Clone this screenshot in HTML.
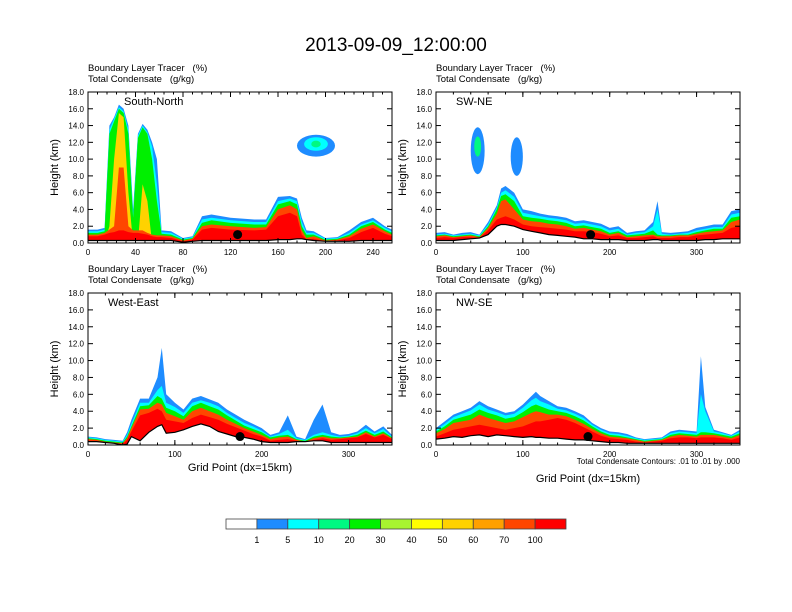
<!DOCTYPE html>
<html><head><meta charset="utf-8"><style>
body{margin:0;background:#fff}
svg{display:block;font-family:"Liberation Sans",sans-serif}
</style></head><body>
<svg id="c" width="792" height="612" xmlns="http://www.w3.org/2000/svg">
<text x="396" y="51" font-size="19" text-anchor="middle">2013-09-09_12:00:00</text>
</svg>
<script>
const NS='http://www.w3.org/2000/svg';
const svg=document.getElementById('c');
const colorLevels=['1','5','10','20','30','40','50','60','70','100'];
const colorFills=['#ffffff','#1e8cff','#00ffff','#00f882','#00f000','#a8f430','#ffff00','#ffd200','#ffa000','#ff4600','#ff0000'];
const yTicks=[0,2,4,6,8,10,12,14,16,18];
const p1Ticks=[0,40,80,120,160,200,240];
const p2Ticks=[0,100,200,300];
const panelNames=['South-North','SW-NE','West-East','NW-SE'];
// Panel 1 data
const p1X=[0,8,14,18,22,26,30,34,38,42,46,50,54,58,62,70,80,88,96,104,120,140,150,160,170,176,180,184,190,200,210,220,230,240,250,256];
const p1Blue=[1.6,1.6,1.8,14,15,16.5,16,14,4,13,14.2,13.5,12,10,1.5,1.4,0.6,0.8,3.2,3.4,3.0,2.8,2.8,5.5,5.6,5.3,3,1.5,1.4,0.6,0.7,1.5,2.5,3.0,2.0,1.6];
const p1Cyan=[1.4,1.4,1.6,13.5,14.8,16.2,15.7,13.5,3.5,12.8,14,13.2,11.5,7,1.3,1.2,0.5,0.7,2.8,3.0,2.7,2.5,2.5,5.0,5.3,5.0,2.5,1.2,1.2,0.5,0.6,1.2,2.2,2.7,1.8,1.4];
const p1Green=[1.2,1.2,1.4,13,14.5,16,15.5,13,3,12.5,13.8,13,10,5,1.1,1.0,0.4,0.6,2.4,2.7,2.4,2.2,2.2,4.6,5.0,4.6,2.0,1.0,1.0,0.4,0.5,1.0,2.0,2.5,1.6,1.2];
const p1Yellow=[0,0,0,2,10,15.5,15,6,0,0,7,5,0,0,0,0,0,0,0,0,0,0,0,0,0,0,0,0,0,0,0,0,0,0,0,0];
const p1Orange=[1.0,1.0,1.2,1.6,2,9,9,2,1.5,1.5,1.5,1.2,1.0,0.9,0.9,0.8,0.3,0.5,2.0,2.2,2.0,1.8,1.9,4.0,4.5,4.0,1.5,0.6,0.8,0.3,0.4,0.8,1.7,2.2,1.4,1.0];
const p1Red=[0.8,0.8,1.0,1.2,1.3,1.5,1.5,1.3,1.2,1.2,1.1,1.0,0.8,0.7,0.7,0.6,0.2,0.4,1.6,1.8,1.6,1.5,1.6,3.2,3.6,3.2,1.0,0.4,0.5,0.2,0.3,0.6,1.3,1.8,1.1,0.8];
const p1Ground=[0.3,0.3,0.3,0.3,0.3,0.3,0.3,0.3,0.3,0.3,0.3,0.3,0.3,0.3,0.3,0.3,0.1,0.2,0.3,0.3,0.3,0.3,0.3,0.4,0.4,0.5,0.5,0.4,0.3,0.2,0.2,0.2,0.3,0.3,0.3,0.3];
// Panel 2 data
const p2X=[0,10,20,30,40,50,60,70,75,80,90,100,110,120,130,140,150,160,170,180,190,200,210,220,230,240,250,255,260,270,280,290,300,310,320,330,340,350];
const p2Blue=[1.2,1.3,1.0,1.2,1.3,1.0,2.5,4.5,6.5,6.8,6.0,4.0,3.8,3.5,3.3,3.2,3.0,2.6,2.7,2.5,2.3,1.8,2.0,1.2,1.4,1.5,2.5,5.0,1.3,1.2,1.3,1.4,1.8,2.0,2.2,2.2,3.8,4.0];
const p2Cyan=[1.0,1.1,0.9,1.0,1.1,0.9,2.2,4.2,6.0,6.3,5.5,3.6,3.4,3.2,3.0,2.9,2.7,2.3,2.4,2.2,2.0,1.5,1.7,1.0,1.2,1.3,2.0,4.0,1.1,1.0,1.1,1.2,1.5,1.7,1.9,1.9,3.4,3.6];
const p2Green=[0.9,1.0,0.8,0.9,1.0,0.8,2.0,4.0,5.6,5.8,5.0,3.2,3.0,2.9,2.7,2.6,2.4,2.0,2.1,1.9,1.7,1.2,1.4,0.9,1.0,1.1,1.5,1.0,0.9,0.9,1.0,1.0,1.3,1.5,1.7,1.7,3.0,3.2];
const p2Orange=[0.8,0.9,0.7,0.8,0.9,0.7,1.8,3.5,5.0,5.2,4.0,2.8,2.6,2.5,2.3,2.2,2.0,1.7,1.8,1.6,1.4,1.0,1.2,0.7,0.8,0.9,1.0,0.8,0.8,0.8,0.9,0.9,1.1,1.3,1.4,1.5,2.5,2.8];
const p2Red=[0.6,0.7,0.6,0.7,0.7,0.6,1.5,2.8,3.0,3.2,2.8,2.2,2.0,1.9,1.8,1.7,1.6,1.4,1.4,1.3,1.1,0.8,0.9,0.6,0.6,0.7,0.8,0.6,0.6,0.6,0.7,0.7,0.9,1.0,1.1,1.2,1.8,2.0];
const p2Ground=[0.3,0.3,0.3,0.4,0.5,0.6,1.0,2.0,2.2,2.2,2.0,1.6,1.4,1.2,1.0,0.9,0.8,0.7,0.5,0.5,0.4,0.4,0.4,0.3,0.3,0.3,0.4,0.4,0.3,0.3,0.3,0.3,0.3,0.4,0.4,0.5,0.5,0.5];
// Panel 3 data
const p3X=[0,10,20,30,40,45,50,60,70,80,85,90,100,110,120,130,140,150,160,170,180,190,200,210,220,230,240,250,260,270,280,290,300,310,320,330,340,350];
const p3Blue=[1.0,0.9,0.7,0.6,0.5,1.5,3.0,5.5,5.5,8.0,11.5,6.0,5.0,4.2,5.5,5.8,5.4,5.0,4.2,3.6,3.0,2.5,2.0,1.2,1.5,3.5,1.0,0.7,3.0,4.8,1.5,1.2,1.3,1.6,2.4,1.6,2.2,1.2];
const p3Cyan=[0.9,0.8,0.6,0.5,0.4,1.2,2.5,5.0,5.0,6.5,7.0,5.0,4.5,3.8,5.0,5.3,5.0,4.6,3.8,3.2,2.6,2.2,1.7,1.0,1.3,1.8,0.8,0.6,1.2,1.5,1.2,1.0,1.1,1.4,2.0,1.4,1.9,1.0];
const p3Green=[0.8,0.7,0.5,0.4,0.3,1.0,2.2,4.6,4.7,5.8,5.5,4.4,4.0,3.4,4.6,5.0,4.6,4.2,3.5,2.9,2.3,1.9,1.5,0.9,1.1,1.2,0.7,0.5,1.0,1.2,1.0,0.9,1.0,1.2,1.7,1.2,1.6,0.9];
const p3Orange=[0.7,0.6,0.4,0.3,0.2,0.8,2.0,4.2,4.3,5.0,4.8,3.8,3.4,3.0,4.0,4.4,4.0,3.6,3.0,2.5,2.0,1.6,1.2,0.7,0.9,1.0,0.6,0.4,0.8,1.0,0.8,0.8,0.9,1.0,1.5,1.0,1.4,0.8];
const p3Red=[0.5,0.5,0.3,0.2,0.1,0.6,1.6,3.5,3.8,4.3,4.0,3.0,2.8,2.6,3.2,3.6,3.3,3.0,2.5,2.1,1.7,1.3,1.0,0.5,0.6,0.7,0.5,0.3,0.6,0.8,0.6,0.7,0.8,0.9,1.3,0.9,1.2,0.7];
const p3Ground=[0.4,0.4,0.3,0.2,0.0,0.1,1.0,0.5,1.5,2.2,2.4,1.4,1.5,1.8,2.2,2.5,2.2,1.6,1.3,1.0,0.9,0.7,0.4,0.3,0.3,0.3,0.4,0.4,0.5,0.5,0.3,0.3,0.3,0.3,0.3,0.3,0.3,0.3];
// Panel 4 data
const p4X=[0,10,20,30,40,50,60,70,80,90,100,110,115,120,130,140,150,160,170,180,190,200,210,220,230,240,250,260,270,280,290,300,305,310,320,330,340,350];
const p4Blue=[2.0,2.8,3.6,4.0,4.4,5.2,4.6,4.2,3.8,4.0,4.8,5.8,6.3,5.8,5.2,4.6,4.4,4.0,3.5,2.6,2.0,1.6,1.5,1.3,0.9,0.7,0.8,0.9,1.6,1.8,1.7,1.6,10.5,4.5,1.8,1.5,1.2,1.8];
const p4Cyan=[1.8,2.5,3.3,3.7,4.1,4.8,4.2,3.9,3.5,3.7,4.4,5.3,5.6,5.2,4.8,4.3,4.1,3.7,3.2,2.4,1.8,1.4,1.3,1.1,0.8,0.6,0.7,0.8,1.4,1.6,1.5,1.4,6.0,4.0,1.6,1.4,1.1,1.6];
const p4Green=[1.6,2.2,3.0,3.3,3.6,4.2,3.8,3.5,3.1,3.3,3.9,4.6,4.8,4.6,4.2,4.0,3.8,3.4,2.9,2.2,1.6,1.2,1.1,0.9,0.7,0.5,0.6,0.7,1.2,1.4,1.3,1.2,1.5,1.5,1.4,1.2,1.0,1.4];
const p4Orange=[1.4,1.9,2.6,2.8,3.0,3.6,3.2,2.9,2.6,2.8,3.3,3.8,4.0,3.9,3.6,3.6,3.4,3.0,2.5,1.9,1.4,1.0,0.9,0.8,0.6,0.4,0.5,0.6,1.0,1.2,1.1,1.0,1.2,1.2,1.2,1.0,0.8,1.2];
const p4Red=[1.0,1.4,1.8,2.0,2.2,2.4,2.2,2.0,1.8,2.0,2.2,2.6,2.8,2.8,3.0,3.2,3.0,2.6,2.1,1.6,1.1,0.8,0.7,0.6,0.4,0.3,0.4,0.5,0.8,0.9,0.9,0.8,0.9,0.9,0.9,0.8,0.6,0.9];
const p4Ground=[0.7,0.8,1.0,0.9,1.1,1.2,1.0,1.2,1.1,1.0,0.9,1.0,0.9,0.9,0.8,0.8,0.7,0.6,0.6,0.5,0.4,0.3,0.3,0.2,0.2,0.2,0.2,0.2,0.2,0.2,0.2,0.2,0.2,0.2,0.2,0.2,0.2,0.2];
// floating cloud blobs: panel, center x, center height, half-width (grid), half-height (km), colour index
const blobPanel=[1,1,1,0,0,0];
const blobX=[48,48,93,192,192,192];
const blobH=[11,11.5,10.3,11.6,11.8,11.8];
const blobW=[8,4,7,16,10,4];
const blobD=[2.8,1.2,2.3,1.3,0.8,0.4];
const blobC=[1,3,1,1,2,3];

const panels=[
 {x0:88,x1:392,y0:92,y1:243,xmax:256,ticks:p1Ticks,X:p1X,bands:[p1Blue,p1Cyan,p1Green,p1Yellow,p1Orange,p1Red],g:p1Ground,dot:126,ty:0},
 {x0:436,x1:740,y0:92,y1:243,xmax:350,ticks:p2Ticks,X:p2X,bands:[p2Blue,p2Cyan,p2Green,null,p2Orange,p2Red],g:p2Ground,dot:178,ty:0},
 {x0:88,x1:392,y0:293,y1:445,xmax:350,ticks:p2Ticks,X:p3X,bands:[p3Blue,p3Cyan,p3Green,null,p3Orange,p3Red],g:p3Ground,dot:175,ty:471},
 {x0:436,x1:740,y0:293,y1:445,xmax:350,ticks:p2Ticks,X:p4X,bands:[p4Blue,p4Cyan,p4Green,null,p4Orange,p4Red],g:p4Ground,dot:175,ty:482}
];
const bandColors=['#1e8cff','#00ffff','#00f000','#ffd200','#ff4600','#ff0000'];

function mk(tag,attrs,parent){const e=document.createElementNS(NS,tag);for(const k in attrs)e.setAttribute(k,attrs[k]);(parent||svg).appendChild(e);return e;}
function txt(x,y,s,size,anchor,parent){const t=mk('text',{x:x,y:y,'font-size':size,'text-anchor':anchor||'start'},parent);t.textContent=s;return t;}

panels.forEach((p,i)=>{
 const g=mk('g',{});
 
 
 const sx=v=>p.x0+(v/p.xmax)*(p.x1-p.x0);
 const sy=v=>p.y1-(v/18)*(p.y1-p.y0);
 const clip=mk('clipPath',{id:'cl'+i},g);
 mk('rect',{x:p.x0,y:p.y0,width:p.x1-p.x0,height:p.y1-p.y0},clip);
 const area=mk('g',{'clip-path':'url(#cl'+i+')'},g);
 p.bands.forEach((b,bi)=>{
  if(!b)return;
  let pts=sx(p.X[0])+','+sy(0)+' ';
  b.forEach((v,k)=>{pts+=sx(p.X[k]).toFixed(1)+','+sy(v).toFixed(1)+' ';});
  pts+=sx(p.X[p.X.length-1])+','+sy(0);
  const pl=mk('polygon',{points:pts,fill:bandColors[bi]},area);
  
  
 });
 blobPanel.forEach((bp,k)=>{
  if(bp!==i)return;
  const e=mk('ellipse',{cx:sx(blobX[k]),cy:sy(blobH[k]),rx:sx(blobW[k])-sx(0),ry:sy(0)-sy(blobD[k]),fill:colorFills[blobC[k]]},area);
  
  
 });
 let gp=sx(p.X[0])+','+sy(0)+' ';
 let gl='';
 p.g.forEach((v,k)=>{gp+=sx(p.X[k]).toFixed(1)+','+sy(v).toFixed(1)+' ';gl+=sx(p.X[k]).toFixed(1)+','+sy(v).toFixed(1)+' ';});
 gp+=sx(p.X[p.X.length-1])+','+sy(0);
 const gr=mk('polygon',{points:gp,fill:'#fff'},area);
 
 
 mk('polyline',{points:gl,fill:'none',stroke:'#000','stroke-width':1.2},area);
 const d=mk('circle',{cx:sx(p.dot),cy:sy(1.0),r:4.5,fill:'#000'},area);
 
 
 const fr=mk('rect',{x:p.x0,y:p.y0,width:p.x1-p.x0,height:p.y1-p.y0,fill:'none',stroke:'#000','stroke-width':1},g);
 
 
 yTicks.forEach(t=>{
  const y=sy(t);
  mk('line',{x1:p.x0,x2:p.x0+5,y1:y,y2:y,stroke:'#000'},g);
  mk('line',{x1:p.x1,x2:p.x1-5,y1:y,y2:y,stroke:'#000'},g);
  const l=txt(p.x0-4,y+3,t.toFixed(1),8,'end',g);
  
  
 });
 for(let t=0;t<=p.xmax;t+=(p.xmax>300?20:8)){
  const x=sx(t);
  mk('line',{x1:x,x2:x,y1:p.y1,y2:p.y1-2.5,stroke:'#000'},g);
  mk('line',{x1:x,x2:x,y1:p.y0,y2:p.y0+2.5,stroke:'#000'},g);
 }
 p.ticks.forEach(t=>{
  const x=sx(t);
  mk('line',{x1:x,x2:x,y1:p.y1,y2:p.y1-5,stroke:'#000'},g);
  mk('line',{x1:x,x2:x,y1:p.y0,y2:p.y0+5,stroke:'#000'},g);
  const l=txt(x,p.y1+12,String(t),8,'middle',g);
  
  
 });
 const yt=txt(0,0,'Height (km)',11,'middle',g);
 yt.setAttribute('transform','translate('+(p.x0-30)+','+((p.y0+p.y1)/2)+') rotate(-90)');
 
 
 const h1=txt(p.x0,p.y0-21,'Boundary Layer Tracer   (%)',9.5,'start',g);
 
 
 h1.style.whiteSpace='pre';
 const h2=txt(p.x0,p.y0-10,'Total Condensate   (g/kg)',9.5,'start',g);
 
 
 h2.style.whiteSpace='pre';
 const pn=txt(p.x0+(i===0?36:20),p.y0+13,panelNames[i],11,'start',g);
 
 
 if(p.ty){
  const xt=txt((p.x0+p.x1)/2,p.ty,'Grid Point (dx=15km)',11,'middle',g);
  
  
 }
});
const note=txt(740,464,'Total Condensate Contours: .01 to .01 by .000',8,'end');


// colorbar
const cbX=226,cbW=340,cbY=519,cbH=10;
const bw=cbW/colorFills.length;
colorFills.forEach((c,k)=>{
 const r=mk('rect',{x:cbX+k*bw,y:cbY,width:bw,height:cbH,fill:c,stroke:'#444','stroke-width':0.8});
 
 
});
colorLevels.forEach((s,k)=>{
 const l=txt(cbX+(k+1)*bw,cbY+24,s,9,'middle');
 
 
});
</script>
</body></html>
